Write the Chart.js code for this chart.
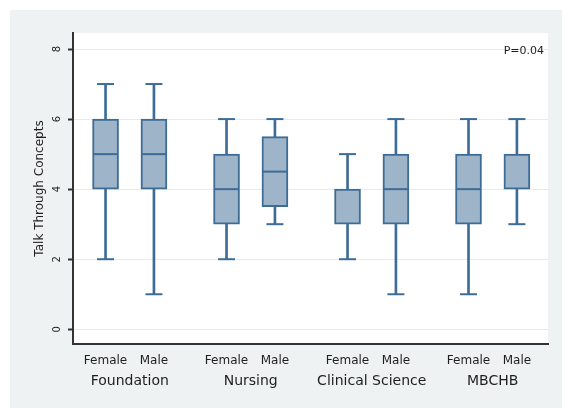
<!DOCTYPE html>
<html><head><meta charset="utf-8">
<script src="https://cdn.jsdelivr.net/npm/chart.js@4"></script>
<style>html,body{margin:0;padding:0;background:#fff}canvas{display:block}</style>
</head><body>
<canvas id="c" width="562" height="408"></canvas>
<script>
// ---- data ----
const groups = ['Foundation', 'Nursing', 'Clinical Science', 'MBCHB'];
const genders = ['Female', 'Male'];
// one value per box, in order: Foundation F, M, Nursing F, M, Clinical Science F, M, MBCHB F, M
const whiskerLow  = [2, 1, 2, 3,   2, 1, 1, 3];
const quartile1   = [4, 4, 3, 3.5, 3, 3, 3, 4];
const medianVal   = [5, 5, 4, 4.5, 4, 4, 4, 4];
const quartile3   = [6, 6, 5, 5.5, 4, 5, 5, 5];
const whiskerHigh = [7, 7, 6, 6,   5, 6, 6, 6];
const yTicks = [0, 2, 4, 6, 8];
const yTitle = 'Talk Through Concepts';
const pValueLabel = 'P=0.04';

// ---- layout helpers ----
const GENDER_OFFSET = 0.2;
const positions = [];
groups.forEach((g, gi) => genders.forEach((s, si) => positions.push(gi + 1 + (si === 0 ? -GENDER_OFFSET : GENDER_OFFSET))));
const X_MIN = 0.531, X_MAX = 4.457;

const BOX_FILL = '#9eb4c8', BOX_LINE = '#3d6d97', TEXT = '#1e1e1e';
Chart.defaults.font.family = '"DejaVu Sans", sans-serif';
Chart.defaults.color = TEXT;

const bgPlugin = {
  id: 'bg',
  beforeDraw(chart) {
    const {ctx, chartArea: a, width, height} = chart;
    ctx.save();
    ctx.fillStyle = '#ffffff'; ctx.fillRect(0, 0, width, height);
    ctx.fillStyle = '#eef2f3'; ctx.fillRect(10, 10, width - 10, height - 10);
    ctx.fillStyle = '#ffffff'; ctx.fillRect(a.left, a.top, a.right - a.left, a.bottom - a.top);
    ctx.restore();
  }
};

const boxPartsPlugin = {
  id: 'boxparts',
  afterDatasetsDraw(chart) {
    const x = chart.scales.x, y = chart.scales.y, ctx = chart.ctx;
    ctx.save();
    ctx.strokeStyle = BOX_LINE; ctx.lineWidth = 2; ctx.lineCap = 'butt';
    const seg = (x1, y1, x2, y2) => { ctx.beginPath(); ctx.moveTo(x1, y1); ctx.lineTo(x2, y2); ctx.stroke(); };
    positions.forEach((p, i) => {
      const px = x.getPixelForValue(p);
      const capHalf = 8.5, boxHalf = 13;
      [whiskerLow[i], whiskerHigh[i]].forEach(v => { const py = y.getPixelForValue(v); seg(px - capHalf, py, px + capHalf, py); });
      // median line (when it coincides with a box edge, the edge already shows it)
      if (medianVal[i] !== quartile1[i] && medianVal[i] !== quartile3[i]) {
        const pm = y.getPixelForValue(medianVal[i]);
        seg(px - boxHalf + 1, pm, px + boxHalf - 1, pm);
      }
    });
    ctx.fillStyle = TEXT; ctx.font = '11px "DejaVu Sans"'; ctx.textAlign = 'right'; ctx.textBaseline = 'middle';
    ctx.fillText(pValueLabel, chart.chartArea.right - 4, chart.chartArea.top + 18);
    ctx.restore();
  }
};

new Chart(document.getElementById('c'), {
  type: 'bar',
  data: {
    datasets: [
      {
        label: 'box', order: 0, grouped: false, barThickness: 26,
        data: positions.map((p, i) => ({x: p, y: [quartile1[i], quartile3[i]]})),
        backgroundColor: BOX_FILL, borderColor: BOX_LINE, borderWidth: 2, borderSkipped: false
      },
      {
        label: 'whisker', order: 1, grouped: false, barThickness: 2,
        data: positions.map((p, i) => ({x: p, y: [whiskerLow[i], whiskerHigh[i]]})),
        backgroundColor: BOX_LINE, borderWidth: 0
      }
    ]
  },
  options: {
    responsive: false, animation: false,
    layout: {padding: {top: 33, right: 14, left: 0, bottom: 0}},
    plugins: {legend: {display: false}, tooltip: {enabled: false}},
    scales: {
      x: {
        type: 'linear', position: 'bottom', weight: 0, min: X_MIN, max: X_MAX, offset: false,
        grid: {display: false}, border: {display: true, color: '#333', width: 2},
        afterBuildTicks: s => { s.ticks = positions.map(v => ({value: v})); },
        ticks: {autoSkip: false, maxRotation: 0, minRotation: 0, padding: 2, color: TEXT, font: {size: 12},
                callback: (v, i) => genders[i % 2]},
        afterFit: s => { s.height = 21; }
      },
      x2: {
        type: 'linear', axis: 'x', position: 'bottom', weight: 1, min: X_MIN, max: X_MAX, offset: false,
        grid: {display: false}, border: {display: false},
        afterBuildTicks: s => { s.ticks = groups.map((g, i) => ({value: i + 1})); },
        ticks: {autoSkip: false, maxRotation: 0, minRotation: 0, padding: 0, color: TEXT, font: {size: 14},
                callback: (v, i) => groups[i]},
        afterFit: s => { s.height = 43; }
      },
      y: {
        type: 'linear', position: 'left', min: -0.42, max: 8.457,
        afterBuildTicks: s => { s.ticks = yTicks.map(v => ({value: v})); },
        grid: {color: '#e6ecec', lineWidth: 1, tickColor: '#333', tickLength: 5, tickWidth: 2, drawTicks: true},
        border: {display: true, color: '#333', width: 2},
        ticks: {minRotation: 90, maxRotation: 90, crossAlign: 'center', padding: 7, color: TEXT, font: {size: 10}},
        title: {display: true, text: yTitle, color: TEXT, font: {size: 12}, padding: {top: 33, bottom: 0}},
        afterFit: s => { s.width = 73; }
      }
    }
  },
  plugins: [bgPlugin, boxPartsPlugin]
});
</script>
</body></html>
